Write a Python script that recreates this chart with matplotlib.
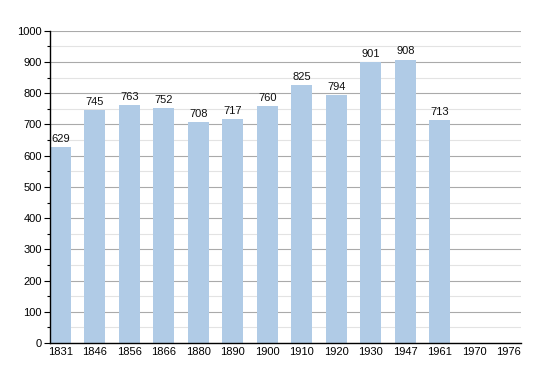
import matplotlib.pyplot as plt
from matplotlib.ticker import MultipleLocator

plt.rcParams['font.family'] = ['Liberation Sans', 'DejaVu Sans']

# Data
years = ["1831", "1846", "1856", "1866", "1880", "1890", "1900",
         "1910", "1920", "1930", "1947", "1961", "1970", "1976"]
population = [629, 745, 763, 752, 708, 717, 760, 825, 794, 901, 908, 713, None, None]

fig = plt.figure(figsize=(5.5, 3.73), dpi=100)
ax = fig.add_axes([0.0909, 0.0804, 0.856, 0.837])

# only draw years that have a value
xs = [i for i, v in enumerate(population) if v is not None]
vals = [v for v in population if v is not None]
ax.bar(xs, vals, width=0.6, color="#b0cbe6", zorder=2)
for x, v in zip(xs, vals):
    ax.text(x, v + 10, str(v), ha="center", va="bottom", fontsize=8, color="#111111")

ax.set_xlim(-0.3, 13.35)
ax.set_ylim(0, 1000)
ax.set_xticks(range(len(years)))
ax.set_xticklabels(years)
ax.yaxis.set_major_locator(MultipleLocator(100))
ax.yaxis.set_minor_locator(MultipleLocator(50))

ax.grid(axis="y", which="major", color="#aaaaaa", linewidth=0.8, zorder=0)
ax.grid(axis="y", which="minor", color="#e3e3e3", linewidth=0.8, zorder=0)
ax.set_axisbelow(True)

for s in ["top", "right"]:
    ax.spines[s].set_visible(False)
ax.spines["left"].set_linewidth(1.0)
ax.spines["bottom"].set_linewidth(1.0)

ax.tick_params(axis="y", which="major", length=4, width=0.8, labelsize=8, pad=2)
ax.tick_params(axis="y", which="minor", length=2.5, width=0.8)
ax.tick_params(axis="x", length=0, labelsize=8, pad=3)

fig.savefig("out.png", dpi=100)
